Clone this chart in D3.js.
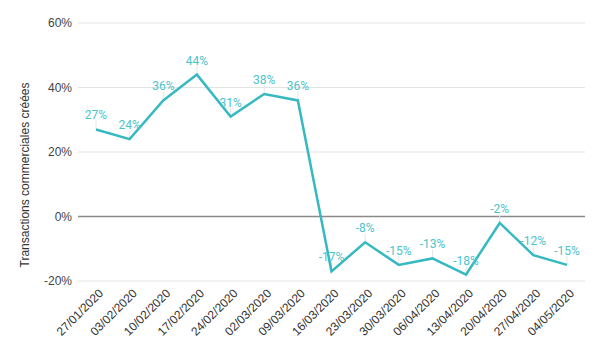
<!DOCTYPE html>
<html><head><meta charset="utf-8">
<script src="https://cdn.jsdelivr.net/npm/d3@7"></script>
<style>body{margin:0;background:#fff}svg{display:block}</style>
</head><body><svg id="c" width="602" height="349"></svg>
<script>
const categories = ["27/01/2020","03/02/2020","10/02/2020","17/02/2020","24/02/2020","02/03/2020","09/03/2020","16/03/2020","23/03/2020","30/03/2020","06/04/2020","13/04/2020","20/04/2020","27/04/2020","04/05/2020"];
const values = [27,24,36,44,31,38,36,-17,-8,-15,-13,-18,-2,-12,-15];
const yTicks = [-20,0,20,40,60];
const yTitle = "Transactions commerciales créées";

const svg = d3.select("#c");
const font = "Roboto, Arial, sans-serif";
const axisFont = "Arial, 'Liberation Sans', sans-serif";
const x = d3.scalePoint().domain(categories).range([96, 567]);
const y = d3.scaleLinear().domain([-20, 60]).range([281, 23]);
const left = 78, right = 585;

// grid
svg.append("g").selectAll("line").data(yTicks).join("line")
  .attr("x1", left).attr("x2", right)
  .attr("y1", d => y(d)).attr("y2", d => y(d))
  .attr("stroke", d => d === 0 ? "#8a8a8a" : "#e3e3e3")
  .attr("stroke-width", d => d === 0 ? 1.3 : 1);

// y labels
svg.append("g").selectAll("text").data(yTicks).join("text")
  .attr("x", 72).attr("y", d => y(d)).attr("dy", "0.35em")
  .attr("text-anchor", "end").attr("font-family", axisFont).attr("font-size", 12)
  .attr("fill", "#444").text(d => d + "%");

// y title
svg.append("text")
  .attr("transform", `translate(29,175) rotate(-90)`)
  .attr("text-anchor", "middle").attr("font-family", axisFont).attr("font-size", 12)
  .attr("fill", "#333").text(yTitle);

// x labels
svg.append("g").selectAll("text").data(categories).join("text")
  .attr("transform", d => `translate(${x(d) + 5},${y(-20) + 10}) rotate(-45)`)
  .attr("text-anchor", "end").attr("dy", "0.35em")
  .attr("font-family", axisFont).attr("font-size", 12).attr("fill", "#333")
  .text(d => d);

// leader lines
svg.append("g").selectAll("line").data(values).join("line")
  .attr("x1", (d, i) => x(categories[i])).attr("x2", (d, i) => x(categories[i]))
  .attr("y1", d => y(d)).attr("y2", d => y(d) - 9)
  .attr("stroke", "#e6e6e6").attr("stroke-width", 1);

// line
const line = d3.line().x((d, i) => x(categories[i])).y(d => y(d));
svg.append("path").datum(values).attr("d", line)
  .attr("fill", "none").attr("stroke", "#36b9c1").attr("stroke-width", 2.5)
  .attr("stroke-linejoin", "miter");

// data labels
svg.append("g").selectAll("text").data(values).join("text")
  .attr("x", (d, i) => x(categories[i])).attr("y", d => y(d) - 10)
  .attr("text-anchor", "middle").attr("font-family", font).attr("font-size", 12)
  .attr("fill", "#4cc3ca").text(d => d + "%");
</script></body></html>
